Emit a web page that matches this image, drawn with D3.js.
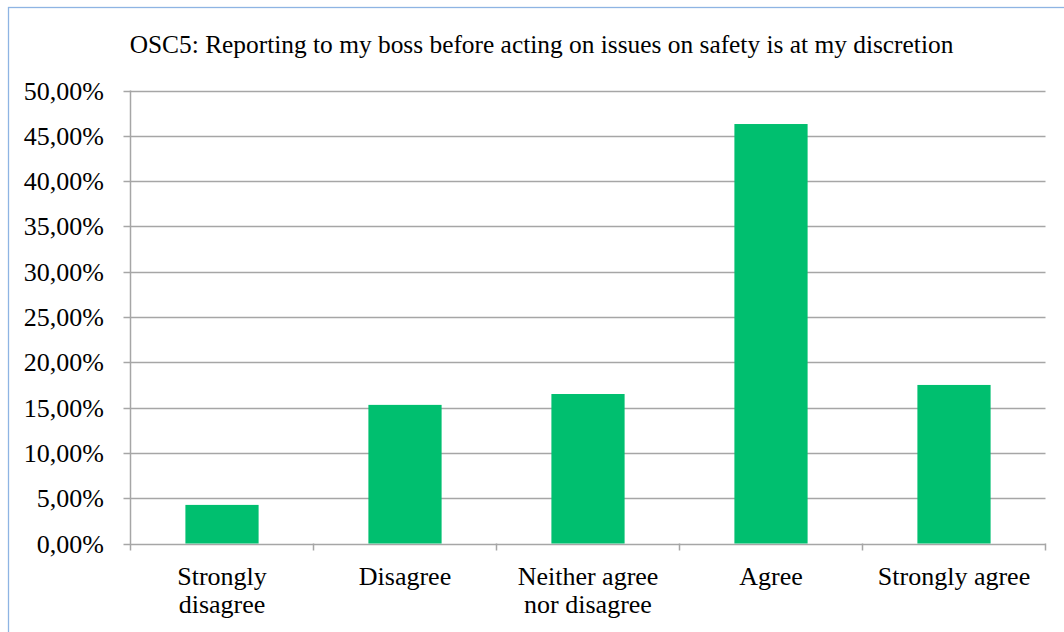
<!DOCTYPE html>
<html>
<head>
<meta charset="utf-8">
<script src="https://cdn.jsdelivr.net/npm/d3@7"></script>
<style>
  html, body { margin: 0; padding: 0; background: #fff; }
  svg { display: block; font-family: "Liberation Serif", "Times New Roman", serif; }
</style>
</head>
<body>
<svg id="chart" width="1064" height="632"></svg>
<script>
const categories = [
  ["Strongly", "disagree"],
  ["Disagree"],
  ["Neither agree", "nor disagree"],
  ["Agree"],
  ["Strongly agree"],
];
const values = [4.26, 15.3, 16.5, 46.3, 17.5];
const yTicks = [0, 5, 10, 15, 20, 25, 30, 35, 40, 45, 50];
const title = "OSC5: Reporting to my boss before acting on issues on safety is at my discretion";

const W = 1064, H = 632;
const plotL = 130.5, plotR = 1045.5, plotT = 90.5, plotB = 543.5;

const svg = d3.select("#chart");

// chart area border (only top and left are visible in the frame)
svg.append("rect")
  .attr("x", 8.5).attr("y", 7.5)
  .attr("width", W + 20).attr("height", H + 20)
  .attr("fill", "none")
  .attr("stroke", "#8eb4e3")
  .attr("stroke-width", 1.3);

const x = d3.scaleBand()
  .domain(d3.range(categories.length))
  .range([plotL, plotR])
  .paddingInner(0.6)
  .paddingOuter(0.3);

const y = d3.scaleLinear().domain([0, 50]).range([plotB, plotT]);

// gridlines
svg.append("g")
  .selectAll("line")
  .data(yTicks)
  .join("line")
  .attr("x1", plotL - 7).attr("x2", plotR)
  .attr("y1", (d) => Math.round(y(d)) + 0.5)
  .attr("y2", (d) => Math.round(y(d)) + 0.5)
  .attr("stroke", "#a6a6a6")
  .attr("stroke-width", 1.5);

// y axis line
svg.append("line")
  .attr("x1", plotL).attr("x2", plotL)
  .attr("y1", plotT).attr("y2", plotB + 7)
  .attr("stroke", "#a6a6a6")
  .attr("stroke-width", 1.5);

// x category boundary ticks
const step = (plotR - plotL) / categories.length;
svg.append("g")
  .selectAll("line")
  .data(d3.range(1, categories.length + 1))
  .join("line")
  .attr("x1", (d) => plotL + d * step)
  .attr("x2", (d) => plotL + d * step)
  .attr("y1", plotB).attr("y2", plotB + 7)
  .attr("stroke", "#a6a6a6")
  .attr("stroke-width", 1.5);

// bars
svg.append("g")
  .selectAll("rect")
  .data(values)
  .join("rect")
  .attr("x", (d, i) => x(i))
  .attr("width", x.bandwidth())
  .attr("y", (d) => y(d))
  .attr("height", (d) => plotB - y(d))
  .attr("fill", "#00bf6f");

// y tick labels
svg.append("g")
  .selectAll("text")
  .data(yTicks)
  .join("text")
  .attr("x", 104)
  .attr("y", (d) => y(d) + 9)
  .attr("text-anchor", "end")
  .attr("font-size", 26)
  .attr("fill", "#000")
  .text((d) => d3.format(".2f")(d).replace(".", ",") + "%");

// category labels
const catLabels = svg.append("g")
  .selectAll("text")
  .data(categories)
  .join("text")
  .attr("text-anchor", "middle")
  .attr("font-size", 26)
  .attr("fill", "#000");
catLabels.selectAll("tspan")
  .data((d, i) => d.map((line) => ({ line, i })))
  .join("tspan")
  .attr("x", (d) => x(d.i) + x.bandwidth() / 2)
  .attr("y", (d, j) => 585 + j * 28)
  .text((d) => d.line);

// title
svg.append("text")
  .attr("x", 541.5)
  .attr("y", 53)
  .attr("text-anchor", "middle")
  .attr("font-size", 25.4)
  .attr("fill", "#000")
  .text(title);
</script>
</body>
</html>
